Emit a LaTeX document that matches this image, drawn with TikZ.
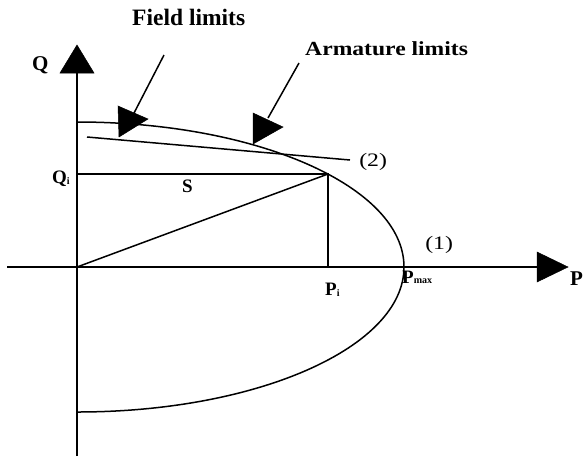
\documentclass[tikz,border=0pt]{standalone}
\usepackage{fontspec}
\setmainfont{Liberation Serif}
\newcommand{\lowsub}[1]{\raisebox{-1.5pt}{\fontsize{10}{10}\selectfont #1}}
\begin{document}
\begin{tikzpicture}[x=1pt,y=-1pt,
  axis/.style={line width=2pt},
  curve/.style={line width=1.5pt},
  guide/.style={line width=1.9pt},
  head/.style={fill=black,draw=black,line width=0.5pt,line join=miter},
  boldlbl/.style={font=\bfseries\fontsize{19}{19}\selectfont,inner sep=0pt,anchor=base west},
  plainlbl/.style={font=\fontsize{19}{19}\selectfont,inner sep=0pt,anchor=base west}]
\useasboundingbox (0,0) rectangle (583,456);
% named points
\coordinate (O) at (77,267);
\coordinate (Qtop) at (77,73);
\coordinate (Qbot) at (77,456);
\coordinate (Pleft) at (7,267);
\coordinate (Pend) at (537,267);
\coordinate (E) at (328,174);
\coordinate (Qi) at (77,174);
\coordinate (Pi) at (328,267);
\coordinate (Ctop) at (77,122);
\coordinate (La) at (87,137);
\coordinate (Lb) at (350,160);
% axes
\draw[axis] (Qbot) -- (Qtop);
\draw[axis] (Pleft) -- (Pend);
\fill[head] (77,45) -- (60,73) -- (94,73) -- cycle;
\fill[head] (568,267) -- (537,252) -- (537,282) -- cycle;
% capability curve (1)
\draw[curve] (Ctop) arc[start angle=90,end angle=-90,x radius=327pt,y radius=145pt];
% line (2)
\draw[curve] (La) -- (Lb);
% operating point
\draw[guide] (Qi) -- (E) -- (Pi);
\draw[curve] (O) -- (E);
% pointers
\coordinate (Fa) at (164,55);
\coordinate (Fb) at (133,115);
\coordinate (Aa) at (299,63);
\coordinate (Ab) at (268,118);
\draw[curve] (Fa) -- (Fb);
\draw[curve] (Aa) -- (Ab);
\fill[head] (118,106) -- (119,137) -- (148,119) -- cycle;
\fill[head] (253,113) -- (253,144) -- (283,127) -- cycle;
% labels
\node[boldlbl,font=\bfseries\fontsize{23.5}{23.5}\selectfont] (field) at (132,25) {Field limits};
\node[boldlbl,font=\bfseries\fontsize{20}{20}\selectfont,xscale=1.18] (arm) at (305,55) {Armature limits};
\node[boldlbl,font=\bfseries\fontsize{21}{21}\selectfont] (Q) at (32,70) {Q};
\node[boldlbl] (Qil) at (52,183) {Q\lowsub{i}};
\node[boldlbl] (S) at (182,192) {S};
\node[boldlbl] (Pil) at (325,295) {P\lowsub{i}};
\node[boldlbl] (Pmax) at (402,283) {P\raisebox{0pt}{\fontsize{10}{10}\selectfont max}};
\node[boldlbl,font=\bfseries\fontsize{21}{21}\selectfont] (P) at (570,285) {P};
\node[plainlbl,xscale=1.25] (two) at (359,166) {(2)};
\node[plainlbl,xscale=1.25] (one) at (425,249) {(1)};
\end{tikzpicture}
\end{document}
